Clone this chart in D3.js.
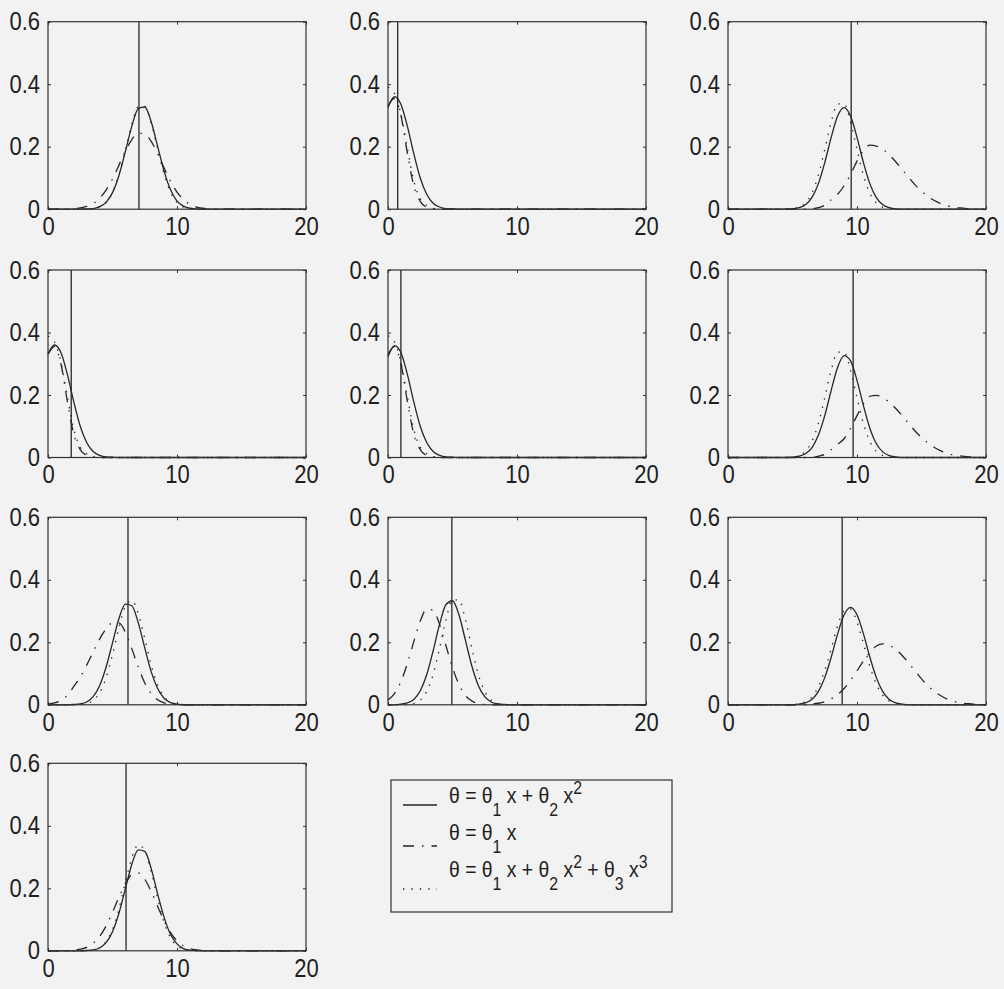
<!DOCTYPE html>
<html>
<head>
<meta charset="utf-8">
<script src="https://cdn.jsdelivr.net/npm/d3@7"></script>
<style>
  body { margin: 0; background: #f2f2f2; }
  svg { display: block; }
  text { font-family: "Liberation Sans", Arial, Helvetica, sans-serif; fill: #1e1e1e; }
</style>
</head>
<body>
<svg id="chart" width="1004" height="989"></svg>
<script>
// ---- data ---------------------------------------------------------------
// common abscissa grid for every density curve
const xGrid = [0,0.5,1,1.5,2,2.5,3,3.5,4,4.5,5,5.5,6,6.5,7,7.5,8,8.5,9,9.5,
               10,10.5,11,11.5,12,12.5,13,13.5,14,14.5,15,15.5,16,16.5,17,17.5,18,18.5,19,19.5,20];
const xTicks = [0, 10, 20];
const yTicks = [0, 0.2, 0.4, 0.6];
const yTickLabels = ["0", "0.2", "0.4", "0.6"];

// true parameter value marked by the vertical line in each panel
const markerX = [7.05, 0.75, 9.55, 1.8, 1.0, 9.7, 6.2, 4.95, 8.85, 6.05];

// quad = θ1x+θ2x² (solid), lin = θ1x (dash-dot), cubic = θ1x+θ2x²+θ3x³ (dotted)
const quad1  = [0,0,0,0,0,0,0.001,0.002,0.008,0.022, 0.053,0.108,0.185,0.266,0.322,0.327,0.280,0.201,0.122,0.062, 0.026,0.010,0.003,0.001,0,0,0,0,0,0, 0,0,0,0,0,0,0,0,0,0, 0];
const lin1   = [0,0,0,0,0.001,0.004,0.009,0.018,0.035,0.061, 0.097,0.141,0.186,0.223,0.243,0.241,0.217,0.178,0.132,0.089, 0.055,0.031,0.016,0.007,0.003,0.001,0,0,0,0, 0,0,0,0,0,0,0,0,0,0, 0];
const cubic1 = [0,0,0,0,0,0,0,0.002,0.007,0.021, 0.053,0.110,0.190,0.272,0.328,0.329,0.275,0.193,0.113,0.055, 0.022,0.007,0.002,0,0,0,0,0,0,0, 0,0,0,0,0,0,0,0,0,0, 0];

const quad2  = [0.325,0.360,0.336,0.266,0.178,0.100,0.048,0.019,0.007,0.002, 0.001,0,0,0,0,0,0,0,0,0, 0,0,0,0,0,0,0,0,0,0, 0,0,0,0,0,0,0,0,0,0, 0];
const lin2   = [0.330,0.355,0.300,0.180,0.075,0.025,0.006,0.001,0,0, 0,0,0,0,0,0,0,0,0,0, 0,0,0,0,0,0,0,0,0,0, 0,0,0,0,0,0,0,0,0,0, 0];
const cubic2 = [0.390,0.370,0.305,0.195,0.090,0.033,0.012,0.003,0,0, 0,0,0,0,0,0,0,0,0,0, 0,0,0,0,0,0,0,0,0,0, 0,0,0,0,0,0,0,0,0,0, 0];

const quad3  = [0,0,0,0,0,0,0,0,0,0, 0.001,0.005,0.014,0.037,0.081,0.149,0.230,0.298,0.325,0.298, 0.230,0.149,0.081,0.037,0.014,0.005,0.001,0,0,0, 0,0,0,0,0,0,0,0,0,0, 0];
const lin3   = [0,0,0,0,0,0,0,0,0,0, 0,0,0,0.001,0.005,0.013,0.030,0.048,0.075,0.111, 0.154,0.188,0.205,0.202,0.192,0.174,0.152,0.127,0.102,0.078, 0.058,0.041,0.028,0.018,0.011,0.007,0.004,0.002,0.001,0, 0];
const cubic3 = [0,0,0,0,0,0,0,0,0,0, 0.002,0.006,0.020,0.051,0.108,0.191,0.279,0.337,0.337,0.279, 0.191,0.108,0.051,0.020,0.006,0.002,0,0,0,0, 0,0,0,0,0,0,0,0,0,0, 0];

const quad4  = [0.332,0.360,0.336,0.266,0.178,0.100,0.048,0.019,0.007,0.002, 0.001,0,0,0,0,0,0,0,0,0, 0,0,0,0,0,0,0,0,0,0, 0,0,0,0,0,0,0,0,0,0, 0];
const lin4   = [0.330,0.355,0.300,0.180,0.075,0.025,0.006,0.001,0,0, 0,0,0,0,0,0,0,0,0,0, 0,0,0,0,0,0,0,0,0,0, 0,0,0,0,0,0,0,0,0,0, 0];
const cubic4 = [0.388,0.370,0.305,0.195,0.090,0.033,0.012,0.003,0,0, 0,0,0,0,0,0,0,0,0,0, 0,0,0,0,0,0,0,0,0,0, 0,0,0,0,0,0,0,0,0,0, 0];

const quad5  = [0.322,0.358,0.336,0.266,0.178,0.100,0.048,0.019,0.007,0.002, 0.001,0,0,0,0,0,0,0,0,0, 0,0,0,0,0,0,0,0,0,0, 0,0,0,0,0,0,0,0,0,0, 0];
const lin5   = [0.330,0.355,0.300,0.180,0.075,0.025,0.006,0.001,0,0, 0,0,0,0,0,0,0,0,0,0, 0,0,0,0,0,0,0,0,0,0, 0,0,0,0,0,0,0,0,0,0, 0];
const cubic5 = [0.389,0.370,0.305,0.195,0.090,0.033,0.012,0.003,0,0, 0,0,0,0,0,0,0,0,0,0, 0,0,0,0,0,0,0,0,0,0, 0,0,0,0,0,0,0,0,0,0, 0];

const quad6  = [0,0,0,0,0,0,0,0,0,0, 0.001,0.004,0.012,0.031,0.071,0.134,0.215,0.289,0.326,0.309, 0.247,0.166,0.093,0.044,0.018,0.006,0.002,0,0,0, 0,0,0,0,0,0,0,0,0,0, 0];
const lin6   = [0,0,0,0,0,0,0,0,0,0, 0,0,0,0,0.004,0.010,0.025,0.042,0.060,0.093, 0.134,0.172,0.196,0.199,0.192,0.177,0.157,0.134,0.109,0.085, 0.064,0.046,0.032,0.021,0.013,0.008,0.005,0.003,0.001,0, 0];
const cubic6 = [0,0,0,0,0,0,0,0,0,0, 0.002,0.006,0.020,0.051,0.108,0.191,0.279,0.337,0.337,0.279, 0.191,0.108,0.051,0.020,0.006,0.002,0,0,0,0, 0,0,0,0,0,0,0,0,0,0, 0];

const quad7  = [0,0,0,0,0.001,0.003,0.009,0.026,0.061,0.120, 0.198,0.276,0.322,0.317,0.262,0.182,0.106,0.052,0.021,0.007, 0.002,0,0,0,0,0,0,0,0,0, 0,0,0,0,0,0,0,0,0,0, 0];
const lin7   = [0.002,0.006,0.014,0.030,0.059,0.089,0.127,0.169,0.210,0.243, 0.262,0.262,0.232,0.179,0.120,0.070,0.036,0.016,0.006,0.002, 0.001,0,0,0,0,0,0,0,0,0, 0,0,0,0,0,0,0,0,0,0, 0];
const cubic7 = [0,0,0,0,0,0.001,0.004,0.014,0.038,0.086, 0.160,0.247,0.315,0.334,0.292,0.212,0.127,0.063,0.026,0.009, 0.002,0.001,0,0,0,0,0,0,0,0, 0,0,0,0,0,0,0,0,0,0, 0];

const quad8  = [0,0,0.002,0.006,0.017,0.045,0.096,0.173,0.258,0.321, 0.333,0.288,0.207,0.124,0.062,0.026,0.009,0.003,0.001,0, 0,0,0,0,0,0,0,0,0,0, 0,0,0,0,0,0,0,0,0,0, 0];
const lin8   = [0.015,0.036,0.074,0.132,0.202,0.268,0.306,0.302,0.257,0.188, 0.119,0.065,0.030,0.012,0.004,0.001,0,0,0,0, 0,0,0,0,0,0,0,0,0,0, 0,0,0,0,0,0,0,0,0,0, 0];
const cubic8 = [0,0,0,0.001,0.004,0.015,0.043,0.097,0.181,0.273, 0.336,0.336,0.273,0.181,0.097,0.043,0.015,0.004,0.001,0, 0,0,0,0,0,0,0,0,0,0, 0,0,0,0,0,0,0,0,0,0, 0];

const quad9  = [0,0,0,0,0,0,0,0,0,0, 0,0.002,0.006,0.017,0.042,0.087,0.152,0.227,0.288,0.312, 0.288,0.227,0.152,0.087,0.042,0.017,0.006,0.002,0,0, 0,0,0,0,0,0,0,0,0,0, 0];
const lin9   = [0,0,0,0,0,0,0,0,0,0, 0,0,0,0.002,0.005,0.010,0.019,0.033,0.052,0.078, 0.109,0.140,0.168,0.188,0.195,0.190,0.177,0.158,0.134,0.108, 0.083,0.061,0.043,0.029,0.018,0.011,0.006,0.004,0.002,0.001, 0];
const cubic9 = [0,0,0,0,0,0,0,0,0,0, 0.001,0.003,0.010,0.025,0.057,0.110,0.180,0.253,0.301,0.306, 0.265,0.196,0.123,0.066,0.030,0.012,0.004,0.001,0,0, 0,0,0,0,0,0,0,0,0,0, 0];

const quad10  = [0,0,0,0,0,0,0.001,0.003,0.009,0.026, 0.061,0.120,0.199,0.277,0.323,0.318,0.263,0.182,0.107,0.052, 0.022,0.007,0.002,0.001,0,0,0,0,0,0, 0,0,0,0,0,0,0,0,0,0, 0];
const lin10   = [0,0,0,0,0.002,0.005,0.011,0.024,0.046,0.079, 0.123,0.171,0.215,0.244,0.249,0.229,0.190,0.142,0.096,0.058, 0.032,0.016,0.007,0.003,0.001,0,0,0,0,0, 0,0,0,0,0,0,0,0,0,0, 0];
const cubic10 = [0,0,0,0,0,0,0,0.003,0.010,0.029, 0.068,0.134,0.219,0.298,0.339,0.321,0.253,0.166,0.091,0.041, 0.016,0.005,0.001,0,0,0,0,0,0,0, 0,0,0,0,0,0,0,0,0,0, 0];

// legend entries, written as runs of normal / subscript / superscript text
const legendLabels = [
  [["θ = θ",""],["1","sub"],[" x + θ",""],["2","sub"],[" x",""],["2","sup"]],
  [["θ = θ",""],["1","sub"],[" x",""]],
  [["θ = θ",""],["1","sub"],[" x + θ",""],["2","sub"],[" x",""],["2","sup"],[" + θ",""],["3","sub"],[" x",""],["3","sup"]]
];

// ---- layout -------------------------------------------------------------
const panels = [
  {quad: quad1, lin: lin1, cubic: cubic1},
  {quad: quad2, lin: lin2, cubic: cubic2},
  {quad: quad3, lin: lin3, cubic: cubic3},
  {quad: quad4, lin: lin4, cubic: cubic4},
  {quad: quad5, lin: lin5, cubic: cubic5},
  {quad: quad6, lin: lin6, cubic: cubic6},
  {quad: quad7, lin: lin7, cubic: cubic7},
  {quad: quad8, lin: lin8, cubic: cubic8},
  {quad: quad9, lin: lin9, cubic: cubic9},
  {quad: quad10, lin: lin10, cubic: cubic10}
];

const colLeft = [48, 388, 728];
const rowTop = [21.7, 270, 517.3, 763.3];
const panelW = 258, panelH = 187.5;
const ink = "#262626";
const textSquash = 0.88;           // narrow, tall glyphs
const styles = {
  quad:  {dash: null},
  lin:   {dash: "11 8 1.5 8"},
  cubic: {dash: "1.4 7"}
};

const svg = d3.select("#chart");

const x = d3.scaleLinear().domain([0, 20]).range([0, panelW]);
const y = d3.scaleLinear().domain([0, 0.6]).range([panelH, 0]);
const line = d3.line()
  .x((d, j) => x(xGrid[j]))
  .y(d => y(d))
  .curve(d3.curveMonotoneX);

panels.forEach((p, i) => {
  const r = Math.floor(i / 3), c = i % 3;
  const g = svg.append("g").attr("transform", `translate(${colLeft[c]},${rowTop[r]})`);

  ["quad", "lin", "cubic"].forEach(key => {
    g.append("path")
      .attr("d", line(p[key]))
      .attr("fill", "none")
      .attr("stroke", ink)
      .attr("stroke-width", 1.3)
      .attr("stroke-dasharray", styles[key].dash);
  });

  // vertical marker
  g.append("line")
    .attr("x1", x(markerX[i])).attr("x2", x(markerX[i]))
    .attr("y1", y(0)).attr("y2", y(0.6))
    .attr("stroke", ink).attr("stroke-width", 1.3);

  // axes box
  g.append("rect")
    .attr("x", 0).attr("y", 0).attr("width", panelW).attr("height", panelH)
    .attr("fill", "none").attr("stroke", "#303030").attr("stroke-width", 1.2);

  const axB = g.append("g").attr("transform", `translate(0,${panelH})`)
    .call(d3.axisBottom(x).tickValues(xTicks).tickSize(-3).tickPadding(8).tickSizeOuter(0));
  const axT = g.append("g")
    .call(d3.axisTop(x).tickValues(xTicks).tickSize(-3).tickSizeOuter(0).tickFormat(""));
  const axL = g.append("g")
    .call(d3.axisLeft(y).tickValues(yTicks).tickSize(-3).tickPadding(8).tickSizeOuter(0)
      .tickFormat((d, k) => yTickLabels[k]));
  const axR = g.append("g").attr("transform", `translate(${panelW},0)`)
    .call(d3.axisRight(y).tickValues(yTicks).tickSize(-3).tickSizeOuter(0).tickFormat(""));

  [axB, axT, axL, axR].forEach(a => {
    a.select(".domain").remove();
    a.selectAll(".tick line").attr("stroke", "#303030");
    a.selectAll("text")
      .attr("font-size", 25).attr("fill", "#1e1e1e")
      .attr("font-family", '"Liberation Sans", Arial, sans-serif')
      .each(function () {
        const t = d3.select(this);
        const x0 = +t.attr("x") || 0;
        t.attr("x", x0 / textSquash).attr("transform", `scale(${textSquash},1)`);
      });
  });
});

// ---- legend -------------------------------------------------------------
const leg = svg.append("g");
leg.append("rect")
  .attr("x", 391).attr("y", 780).attr("width", 281).attr("height", 132)
  .attr("fill", "none").attr("stroke", "#303030").attr("stroke-width", 1.2);

const sampleY = [805, 846, 889];
const textY = [803, 840, 877];
const keys = ["quad", "lin", "cubic"];

legendLabels.forEach((parts, k) => {
  leg.append("line")
    .attr("x1", 403).attr("x2", 437)
    .attr("y1", sampleY[k]).attr("y2", sampleY[k])
    .attr("stroke", ink).attr("stroke-width", 1.3)
    .attr("stroke-dasharray", styles[keys[k]].dash);

  const t = leg.append("text")
    .attr("transform", `translate(449,${textY[k]}) scale(${textSquash},1)`)
    .attr("font-size", 22)
    .style("white-space", "pre");
  let shift = 0;
  parts.forEach(([str, kind]) => {
    const target = kind === "sub" ? 13 : kind === "sup" ? -9 : 0;
    t.append("tspan")
      .attr("dy", target - shift)
      .attr("font-size", kind ? 18 : 22)
      .text(str);
    shift = target;
  });
});
</script>
</body>
</html>
